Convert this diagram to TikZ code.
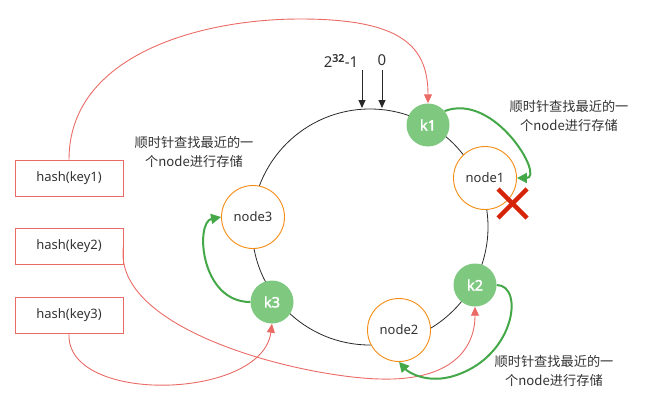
\documentclass[tikz,border=0pt]{standalone}
\usepackage{fontspec}
\setmainfont{Noto Sans}
\newfontfamily\cjk{Noto Sans CJK SC}
\newfontfamily\kfont{Noto Sans}[FakeBold=2.2]
\usetikzlibrary{arrows.meta}
\definecolor{ringc}{RGB}{40,40,40}
\definecolor{redc}{RGB}{234,107,102}
\definecolor{greenf}{RGB}{126,200,128}
\definecolor{greenl}{RGB}{68,168,72}
\definecolor{orangec}{RGB}{245,140,20}
\definecolor{xred}{RGB}{214,36,8}
\definecolor{txt}{RGB}{51,51,51}
\begin{document}
\begin{tikzpicture}[x=1pt,y=-1pt,
 kbox/.style={circle,fill=greenf,minimum size=43pt,inner sep=0pt,text=white,font=\kfont\fontsize{14.5}{14.5}\selectfont},
 nbox/.style={circle,draw=orangec,fill=white,minimum size=63pt,inner sep=0pt,text=txt,line width=0.9pt,font=\fontsize{13}{13}\selectfont},
 hbox/.style={rectangle,draw=redc,minimum width=108pt,minimum height=36pt,inner sep=0pt,text=txt,line width=0.9pt,font=\fontsize{13}{13}\selectfont},
 redarr/.style={draw=redc,line width=0.9pt,-{Triangle[length=9pt,width=8pt]}},
 grnarr/.style={draw=greenl,line width=2pt,-{Triangle[length=10pt,width=10pt]}},
 blkarr/.style={draw=ringc,line width=0.9pt,-{Triangle[length=8pt,width=7pt]}},
 note/.style={align=center,text=txt,font=\cjk\fontsize{13.2}{19}\selectfont},
 toplbl/.style={text=txt,inner sep=0pt,font=\fontsize{15}{15}\selectfont}
]
\useasboundingbox (0,0) rectangle (650,404);
% ring
\draw[ringc,line width=0.8pt] (370,227) circle[radius=118pt];
% nodes on ring
\node[kbox] (k1) at (428,125) {k1};
\node[kbox] (k2) at (475,285) {k2};
\node[kbox] (k3) at (272,302) {k3};
\node[nbox] (n1) at (485,178) {node1};
\node[nbox] (n2) at (399,330) {node2};
\node[nbox] (n3) at (253,217) {node3};
% hash boxes
\node[hbox] (h1) at (69,178) {hash(key1)};
\node[hbox] (h2) at (69,246.5) {hash(key2)};
\node[hbox] (h3) at (69,315.5) {hash(key3)};
% top labels and arrows
\node[toplbl,anchor=base] (la) at (341,67) {2\textsuperscript{{\kfont 32}}-1};
\node[toplbl,anchor=base] (lb) at (382,66) {0};
\coordinate (ta) at (362,70);
\coordinate (ea) at (362,108);
\coordinate (tb) at (382,70);
\coordinate (eb) at (382,108);
\draw[blkarr] (ta) -- (ea);
\draw[blkarr] (tb) -- (eb);
% red hash curves
\draw[redarr] (h1.north) .. controls (69,55) and (200,19) .. (300,19) .. controls (400,19) and (428,45) .. (k1.north);
\draw[redarr] (h2.east) .. controls (112,330) and (300,377) .. (380,379) .. controls (450,381) and (475,350) .. (k2.south);
\draw[redarr] (h3.south) .. controls (66,405) and (262,400) .. (k3.south);
% green search arrows
\draw[grnarr] (k1.40) .. controls (495,92) and (545,178) .. (n1.east);
\draw[grnarr] (k2.east) .. controls (525,285) and (515,360) .. (450,377) .. controls (425,383) and (408,372) .. (n2.south);
\draw[grnarr] (k3.west) .. controls (200,302) and (195,222) .. (n3.west);
% red cross
\coordinate (xa) at (498,189);
\coordinate (xb) at (527,218);
\coordinate (xc) at (527,189);
\coordinate (xd) at (498,218);
\draw[xred,line width=4.5pt] (xa) -- (xb);
\draw[xred,line width=4.5pt] (xc) -- (xd);
% notes
\node[note] (t1) at (569,116) {顺时针查找最近的一\\个node进行存储};
\node[note] (t2) at (194,152) {顺时针查找最近的一\\个node进行存储};
\node[note] (t3) at (554,371) {顺时针查找最近的一\\个node进行存储};
\end{tikzpicture}
\end{document}
